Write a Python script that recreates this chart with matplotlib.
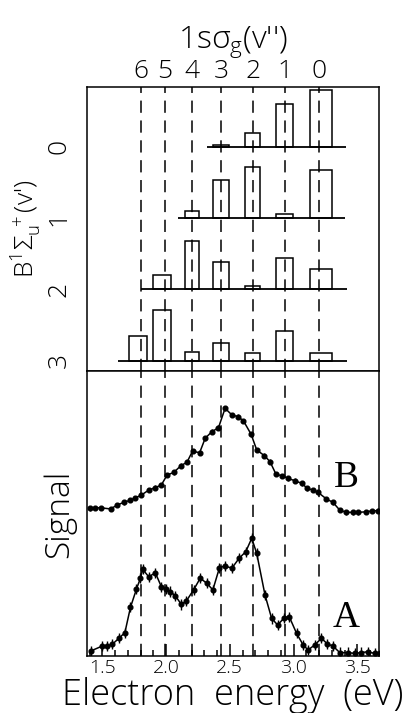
import numpy as np
import matplotlib
matplotlib.use('Agg')
import matplotlib.pyplot as plt

plt.rcParams['font.family'] = ['Open Sans', 'DejaVu Sans']
plt.rcParams['font.weight'] = 'light'
plt.rcParams['axes.labelweight'] = 'light'
plt.rcParams['mathtext.fontset'] = 'custom'
plt.rcParams['mathtext.rm'] = 'Open Sans:light'
plt.rcParams['mathtext.it'] = 'Open Sans:light'
plt.rcParams['mathtext.sf'] = 'Open Sans:light'

# resonance positions (eV) for 1s sigma_g v'' = 6 ... 0
v2_labels = ['6', '5', '4', '3', '2', '1', '0']
v2_energy = [1.80, 1.99, 2.20, 2.43, 2.685, 2.93, 3.20]
bar_center = [1.78, 1.97, 2.20, 2.434, 2.68, 2.93, 3.215]
bar_w = [0.14, 0.14, 0.11, 0.125, 0.12, 0.135, 0.17]

# relative intensities, row = B state v' (0..3), columns v''=6..0 (nan = absent)
v1_labels = ['0', '1', '2', '3']
intens = [
    [np.nan, np.nan, np.nan, 0.02, 0.19, 0.60, 0.80],
    [np.nan, np.nan, 0.10, 0.53, 0.72, 0.056, 0.67],
    [np.nan, 0.20, 0.68, 0.39, 0.05, 0.44, 0.285],
    [0.35, 0.71, 0.126, 0.244, 0.112, 0.416, 0.104],
]
base_start = [2.32, 2.09, 1.80, 1.62]
base_end = [3.41, 3.40, 3.42, 3.42]

# measured signal, curve B
eB = [1.401, 1.442, 1.487, 1.565, 1.617, 1.669, 1.721, 1.760, 1.807, 1.864,
      1.916, 1.963, 2.008, 2.060, 2.117, 2.164, 2.208, 2.263, 2.307, 2.359,
      2.411, 2.463, 2.516, 2.563, 2.607, 2.667, 2.711, 2.771, 2.815, 2.862,
      2.911, 2.958, 3.010, 3.063, 3.109, 3.153, 3.192, 3.258, 3.309, 3.362,
      3.414, 3.466, 3.505, 3.570, 3.614, 3.661]
sB = [51.8, 52.0, 52.0, 51.6, 53.0, 53.9, 54.7, 55.5, 56.5, 58.2,
      59.1, 60.0, 63.5, 64.4, 66.8, 68.0, 71.9, 71.3, 76.4, 78.7,
      80.1, 86.9, 84.6, 84.0, 82.5, 77.8, 72.3, 70.3, 68.2, 63.8,
      63.2, 62.3, 61.5, 60.6, 58.8, 58.2, 57.4, 55.1, 53.9, 51.2,
      50.4, 50.4, 50.4, 50.6, 50.9, 51.0]

# measured signal, curve A
eA = [1.409, 1.500, 1.539, 1.578, 1.630, 1.677, 1.721, 1.768, 1.799, 1.817,
      1.864, 1.916, 1.963, 2.002, 2.034, 2.073, 2.120, 2.159, 2.216, 2.268,
      2.320, 2.367, 2.419, 2.463, 2.516, 2.573, 2.625, 2.672, 2.711, 2.776,
      2.828, 2.875, 2.927, 2.966, 3.023, 3.075, 3.114, 3.166, 3.219, 3.266,
      3.309, 3.362, 3.427, 3.479, 3.531, 3.583, 3.635, 3.674]
sA = [1.75, 3.5, 3.5, 4.1, 6.2, 8.2, 17.1, 23.5, 27.3, 30.4,
      27.8, 29.2, 24.3, 23.4, 22.6, 21.1, 18.1, 19.3, 23.2, 27.3,
      25.5, 23.2, 31.0, 31.6, 30.8, 34.3, 36.6, 41.3, 36.0, 21.4,
      13.2, 10.9, 13.4, 13.8, 8.0, 3.9, 2.1, 3.9, 6.2, 4.2,
      3.5, 1.2, 1.2, 0.9, 1.2, 1.5, 0.9, 1.2]

W, H = 417, 713
fig = plt.figure(figsize=(W / 100, H / 100), dpi=100)
L, R = 87 / W, 379 / W
ax_top = fig.add_axes([L, (H - 371) / H, R - L, 284 / H])
ax_bot = fig.add_axes([L, (H - 656) / H, R - L, 285 / H])

xlim = (1.38, 3.67)
lw = 1.1
dash = (0, (8, 5))

for ax in (ax_top, ax_bot):
    ax.set_xlim(*xlim)
    for s in ax.spines.values():
        s.set_linewidth(lw)
    for e in v2_energy:
        ax.axvline(e, color='black', lw=lw, linestyle=dash, zorder=1)

# --- top panel: bar diagrams
ax_top.set_ylim(-3.145, 0.837)
for i, row in enumerate(intens):
    y0 = -i
    ax_top.hlines(y0, base_start[i], base_end[i], color='black', lw=1.3, zorder=3)
    h = np.array(row)
    ok = ~np.isnan(h)
    ax_top.bar(np.array(bar_center)[ok], h[ok], width=np.array(bar_w)[ok], bottom=y0,
               fill=False, edgecolor='black', lw=lw, zorder=2)

ax_top.set_xticks([])
ax_top.set_yticks([0, -1, -2, -3])
ax_top.set_yticklabels(v1_labels, rotation=90, va='center', fontsize=19)
ax_top.tick_params(axis='y', length=0, pad=11)
ax_top.set_ylabel(r"B$^1\Sigma_\mathrm{u}^{\ +}$(v')", fontsize=19, labelpad=2)

sec = ax_top.secondary_xaxis('top')
sec.set_xticks(v2_energy)
sec.set_xticklabels(v2_labels, fontsize=19)
sec.tick_params(length=0, pad=2)
sec.spines['top'].set_visible(False)
sec.set_xlabel(r"1s$\sigma_\mathrm{g}$(v'')", fontsize=23, labelpad=8)

# --- bottom panel: signal curves
ax_bot.set_ylim(0, 100)
ax_bot.errorbar(eB, sB, yerr=0.8, fmt='-o', color='black', lw=lw, ms=3.4,
                elinewidth=1.0, capsize=0, zorder=4)
ax_bot.errorbar(eA, sA, yerr=1.8, fmt='-o', color='black', lw=lw, ms=3.4,
                elinewidth=1.0, capsize=0, zorder=4)
ax_bot.text(3.416, 62.5, 'B', fontsize=27, family='Liberation Serif',
            weight='normal', ha='center', va='center')
ax_bot.text(3.416, 13.3, 'A', fontsize=27, family='Liberation Serif',
            weight='normal', ha='center', va='center')

ax_bot.set_yticks([])
ax_bot.set_xticks([1.5, 2.0, 2.5, 3.0, 3.5])
ax_bot.set_xticks(np.arange(1.4, 3.7, 0.1), minor=True)
ax_bot.set_xticklabels(['1.5', '2.0', '2.5', '3.0', '3.5'], fontsize=14)
ax_bot.tick_params(axis='x', which='major', direction='in', length=9, width=lw, pad=2)
ax_bot.tick_params(axis='x', which='minor', direction='in', length=4.5, width=lw)
ax_bot.set_xlabel('Electron  energy  (eV)', fontsize=26, labelpad=0)
ax_bot.set_ylabel('Signal', fontsize=24, labelpad=8)

fig.savefig('out.png', dpi=100)
